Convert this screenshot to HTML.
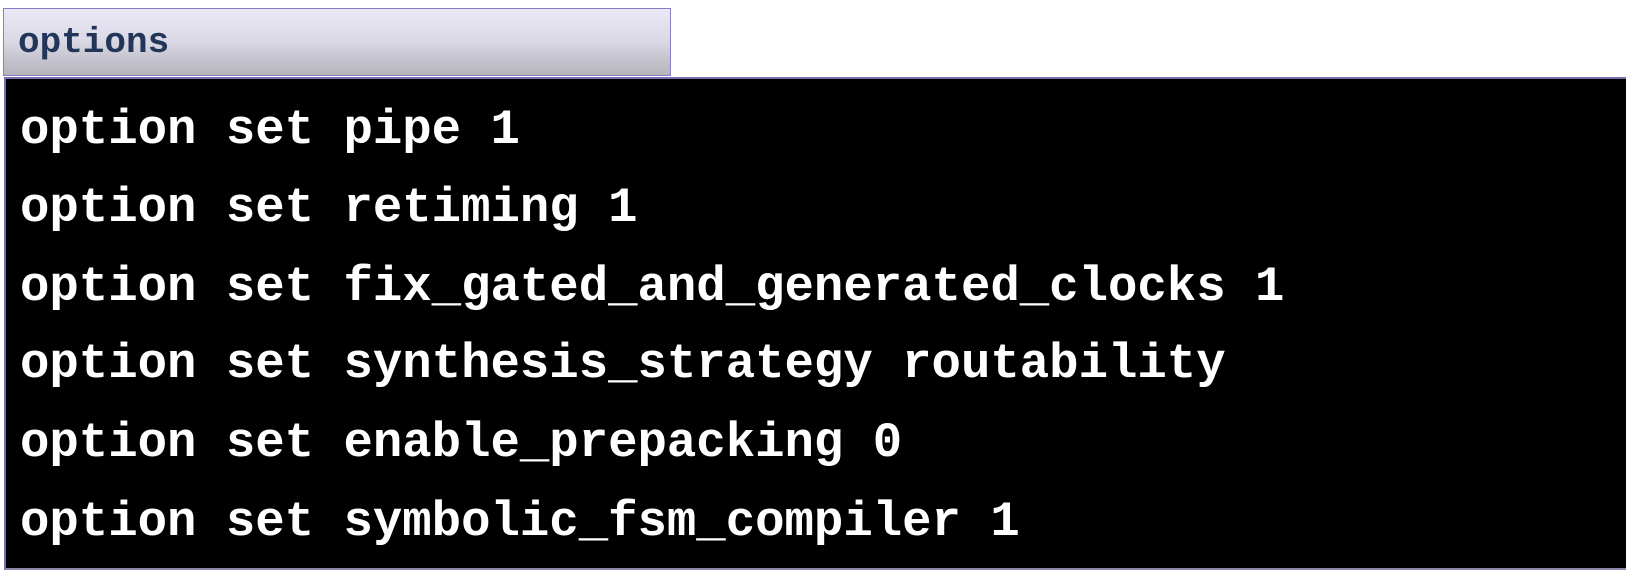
<!DOCTYPE html>
<html><head><style>
html,body{margin:0;padding:0;background:#fff;width:1626px;height:574px;overflow:hidden;position:relative}
.hdr{position:absolute;left:3px;top:8px;width:668px;height:68px;border:1px solid #8a7cc4;background:linear-gradient(#ebe9f6,#dcdae6 45%,#b4b4bc);box-sizing:border-box}
.hdr span{position:absolute;left:14px;top:13px;font:bold 36px "Liberation Mono",monospace;color:#23365a}
.box{position:absolute;left:4px;top:77px;width:1622px;height:493px;background:#000;border-top:2px solid #7a6cb0;border-left:2px solid #7a6cb0;border-bottom:2px solid #8a86a8;box-sizing:border-box}
.l{position:absolute;left:14px;font:bold 49px "Liberation Mono",monospace;color:#fff;white-space:pre;line-height:1}
</style></head><body>
<div class="hdr"><span>options</span></div>
<div class="box">
<div class="l" style="top:27px">option set pipe 1</div>
<div class="l" style="top:105px">option set retiming 1</div>
<div class="l" style="top:184px">option set fix_gated_and_generated_clocks 1</div>
<div class="l" style="top:261px">option set synthesis_strategy routability</div>
<div class="l" style="top:340px">option set enable_prepacking 0</div>
<div class="l" style="top:419px">option set symbolic_fsm_compiler 1</div>
</div>
</body></html>
